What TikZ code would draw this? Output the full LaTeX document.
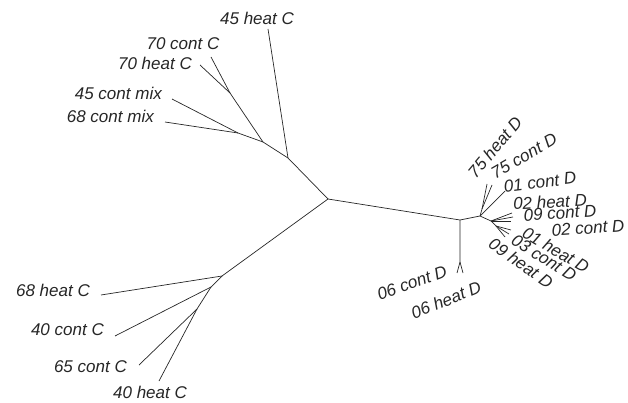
\documentclass[tikz,border=0pt]{standalone}
\usepackage{fontspec}
\setmainfont{Liberation Sans}
\tikzset{
  branch/.style={line width=0.7pt,draw=black!85},
  leaf/.style={font=\fontsize{17}{19}\selectfont\itshape,inner sep=0pt,text=black!85},
}

\begin{document}
\begin{tikzpicture}[x=1pt,y=-1pt]
  \useasboundingbox (0,0) rectangle (628,403);

  % inner nodes
  \coordinate (root) at (328,199);
  \coordinate (nA) at (288,158);
  \coordinate (nB) at (263,142);
  \coordinate (nMix) at (238,133);
  \coordinate (n70) at (230,93);
  \coordinate (nE) at (222,276);
  \coordinate (nF) at (211,287);
  \coordinate (nG) at (197,309);
  \coordinate (nD) at (460,220);
  \coordinate (n06) at (460,262);
  \coordinate (nH) at (480,216);
  \coordinate (n75) at (482,209);
  \coordinate (nI) at (491,221);
  \coordinate (nJ) at (496,226);

  % tips
  \coordinate (t45h) at (268,29);
  \coordinate (t70c) at (211,57);
  \coordinate (t70h) at (200,65);
  \coordinate (t45mix) at (172,99);
  \coordinate (t68mix) at (165,122);
  \coordinate (t68h) at (101,295);
  \coordinate (t40c) at (115,336);
  \coordinate (t65c) at (139,365);
  \coordinate (t40h) at (159,381);
  \coordinate (t06c) at (457,273);
  \coordinate (t06h) at (463,273);
  \coordinate (t75h) at (487,184);
  \coordinate (t75c) at (492,185);
  \coordinate (t01c) at (505,191);
  \coordinate (t02h) at (512,213);
  \coordinate (t09c) at (513,217);
  \coordinate (t02c) at (511,221);
  \coordinate (t01h) at (511,230);
  \coordinate (t03c) at (509,234);
  \coordinate (t09h) at (505,237);

  % labels
  \node[leaf] (l45h) at (257,18.5) {45 heat C};
  \node[leaf] (l70c) at (183,44) {70 cont C};
  \node[leaf,anchor=east] (l70h) at (192,63) {70 heat C};
  \node[leaf,anchor=east] (l45mix) at (162,93) {45 cont mix};
  \node[leaf,anchor=east] (l68mix) at (154,116) {68 cont mix};
  \node[leaf,anchor=east] (l68h) at (90,290) {68 heat C};
  \node[leaf,anchor=east] (l40c) at (104,330) {40 cont C};
  \node[leaf,anchor=east] (l65c) at (127,367) {65 cont C};
  \node[leaf] (l40h) at (150,392) {40 heat C};

  \node[leaf,rotate=50] (l75h) at (495,147) {75 heat D};
  \node[leaf,rotate=30] (l75c) at (524,156) {75 cont D};
  \node[leaf,rotate=7] (l01c) at (540,182) {01 cont D};
  \node[leaf,rotate=3] (l02h) at (550,202) {02 heat D};
  \node[leaf,rotate=4] (l09c) at (560,213) {09 cont D};
  \node[leaf,rotate=4] (l02c) at (588,228) {02 cont D};
  \node[leaf,rotate=-30] (l01h) at (556,250) {01 heat D};
  \node[leaf,rotate=-32] (l03c) at (544,258) {03 cont D};
  \node[leaf,rotate=-35] (l09h) at (521,263) {09 heat D};
  \node[leaf,rotate=20] (l06c) at (412,283) {06 cont D};
  \node[leaf,rotate=22] (l06h) at (446,300) {06 heat D};

  % branches, group C
  \draw[branch] (root) -- (nA) -- (nB) -- (n70) -- (t70h);
  \draw[branch] (n70) -- (t70c);
  \draw[branch] (nA) -- (t45h);
  \draw[branch] (nB) -- (nMix) -- (t45mix);
  \draw[branch] (nMix) -- (t68mix);
  \draw[branch] (root) -- (nE) -- (t68h);
  \draw[branch] (nE) -- (nF) -- (t40c);
  \draw[branch] (nF) -- (nG) -- (t65c);
  \draw[branch] (nG) -- (t40h);

  % branches, group D
  \draw[branch] (root) -- (nD) -- (nH) -- (n75) -- (t75h);
  \draw[branch] (n75) -- (t75c);
  \draw[branch] (nH) -- (t01c);
  \draw[branch] (nD) -- (n06) -- (t06c);
  \draw[branch] (n06) -- (t06h);
  \draw[branch] (nH) -- (nI) -- (t02h);
  \draw[branch] (nI) -- (t09c);
  \draw[branch] (nI) -- (t02c);
  \draw[branch] (nI) -- (nJ) -- (t01h);
  \draw[branch] (nJ) -- (t03c);
  \draw[branch] (nJ) -- (t09h);
\end{tikzpicture}
\end{document}
